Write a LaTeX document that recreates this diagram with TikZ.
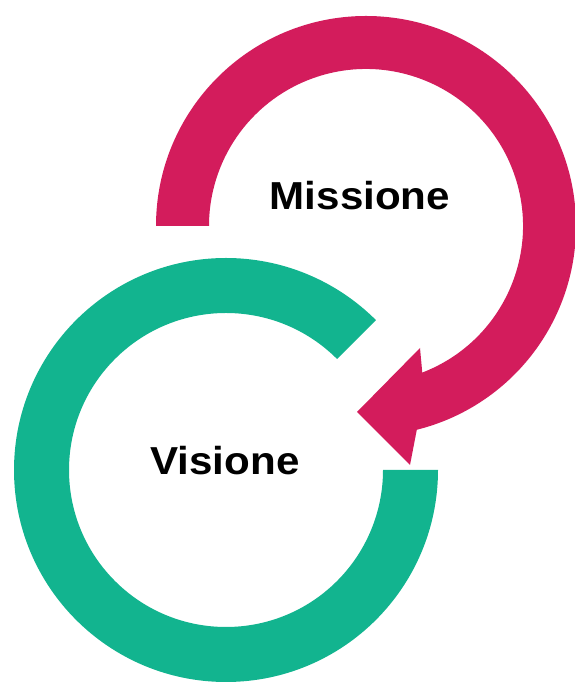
\documentclass[tikz,border=0pt]{standalone}
\usepackage{fontspec}
\setmainfont{Liberation Sans}
\definecolor{rosso}{HTML}{D31C5C}
\definecolor{verde}{HTML}{12B48F}
\begin{document}
\begin{tikzpicture}[x=1pt,y=1pt,declare function={R=210;r=157;G=212;g=157;},
	font=\fontsize{39}{39}\selectfont\bfseries]
	\useasboundingbox (0,0) rectangle (574,684);
	\path (366,458) coordinate (M)
	(226,214) coordinate (V)
	(357,272) coordinate (T)
	(410,219) coordinate (B1)
	(420,336) coordinate (B2);
	\fill[verde] ([shift={(0:G)}]V) arc[start angle=0,end angle=-315,radius=G]
		-- ([shift={(45:g)}]V) arc[start angle=45,end angle=360,radius=g] -- cycle;
	\fill[rosso] ([shift={(180:R)}]M) arc[start angle=180,end angle=-76,radius=R]
		-- (B1) -- (T) -- (B2)
		-- ([shift={(-69:r)}]M) arc[start angle=-69,end angle=180,radius=r] -- cycle;
	\foreach \n/\p/\t in {missione/{(360,474)}/Missione, visione/{(225,209)}/Visione}{
		\node[anchor=base,xscale=1.08] (\n) at \p {\t};
	}
\end{tikzpicture}
\end{document}
